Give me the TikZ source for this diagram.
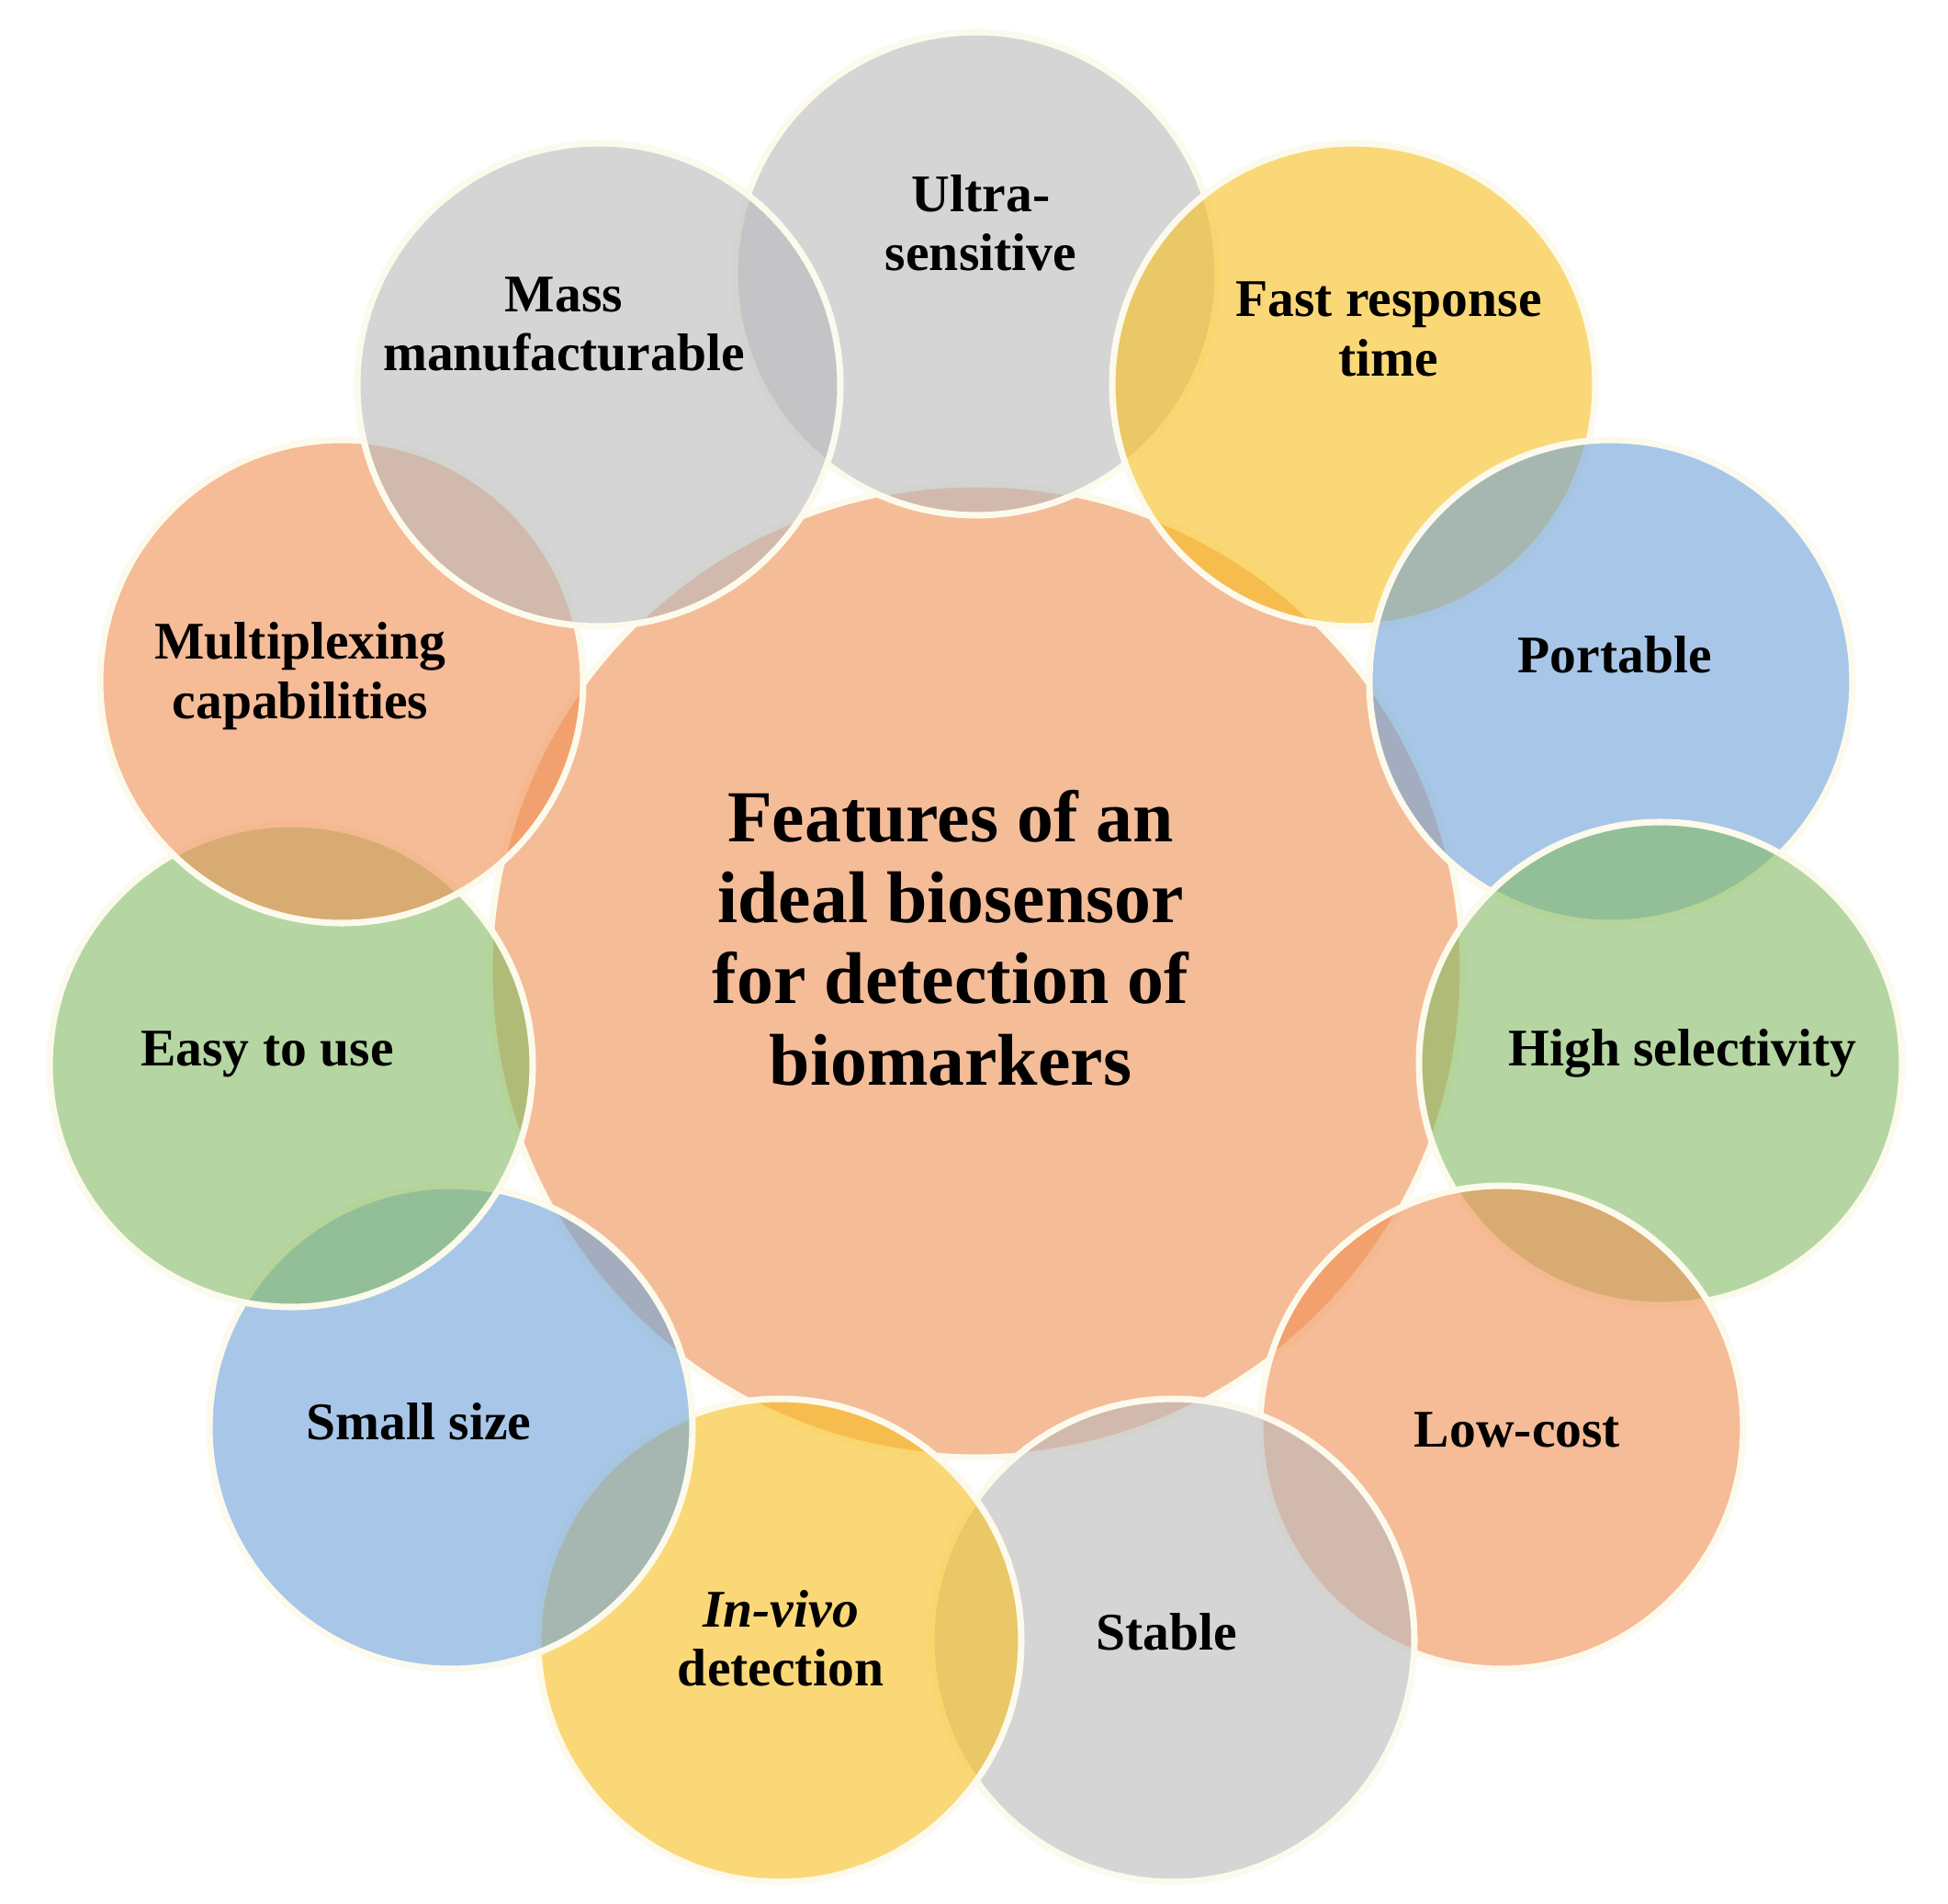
\documentclass[tikz,border=0pt]{standalone}
\usepackage{fontspec}
\setmainfont{Liberation Serif}
\usepackage{xcolor}
\usepackage{tikz}
\definecolor{cream}{RGB}{252,250,236}
\definecolor{gry}{RGB}{185,185,188}
\definecolor{ylw}{RGB}{248,190,30}
\definecolor{blu}{RGB}{110,162,217}
\definecolor{grn}{RGB}{133,187,100}
\definecolor{org}{RGB}{240,143,83}
\definecolor{hub}{RGB}{245,188,152}

\begin{document}
\begin{tikzpicture}[
        bubble/.style={draw=cream, line width=2pt, fill opacity=0.6},
        lbl/.style={font=\fontsize{16.4}{18.3}\selectfont\bfseries, align=center, text=black},
        ttl/.style={font=\fontsize{22.7}{25.1}\selectfont\bfseries, align=center, text=black}]
            \tikzstyle{every node}+=[inner sep=0pt]
            \useasboundingbox (0,0) rectangle (21.21,-20.73);
            \fill [white] (0,0) rectangle (21.21,-20.73);
            % centre disc
            \draw [draw=cream, line width=2pt, fill=hub] (10.63,-10.57) circle (5.30);
            % ring of features, clockwise from the top
            \draw [bubble, fill=gry] (10.63,-2.98) circle (2.63);
            \draw [bubble, fill=ylw] (14.74,-4.19) circle (2.63);
            \draw [bubble, fill=blu] (17.54,-7.42) circle (2.63);
            \draw [bubble, fill=grn] (18.08,-11.58) circle (2.63);
            \draw [bubble, fill=org] (16.35,-15.54) circle (2.63);
            \draw [bubble, fill=gry] (12.77,-17.86) circle (2.63);
            \draw [bubble, fill=ylw] (8.49,-17.86) circle (2.63);
            \draw [bubble, fill=blu] (4.91,-15.54) circle (2.63);
            \draw [bubble, fill=grn] (3.17,-11.60) circle (2.63);
            \draw [bubble, fill=org] (3.72,-7.42) circle (2.63);
            \draw [bubble, fill=gry] (6.52,-4.19) circle (2.63);
            % labels
            \node (title) [ttl] at (10.35,-10.21) {Features of an\\ideal biosensor\\for detection of\\biomarkers};
            \node (ultra) [lbl] at (10.68,-2.425) {Ultra-\\sensitive};
            \node (fast) [lbl] at (15.12,-3.585) {Fast response\\time};
            \node (portable) [lbl] at (17.58,-7.13) {Portable};
            \node (highsel) [lbl] at (18.32,-11.47) {High selectivity};
            \node (lowcost) [lbl] at (16.52,-15.57) {Low-cost};
            \node (stable) [lbl] at (12.70,-17.77) {Stable};
            \node (invivo) [lbl] at (8.50,-17.84) {\textit{In-vivo}\\detection};
            \node (small) [lbl] at (4.56,-15.475) {Small size};
            \node (easy) [lbl] at (2.91,-11.48) {Easy to use};
            \node (multi) [lbl] at (3.27,-7.36) {Multiplexing\\capabilities};
            \node (mass) [lbl] at (6.14,-3.53) {Mass\\manufacturable};
\end{tikzpicture}
\end{document}
